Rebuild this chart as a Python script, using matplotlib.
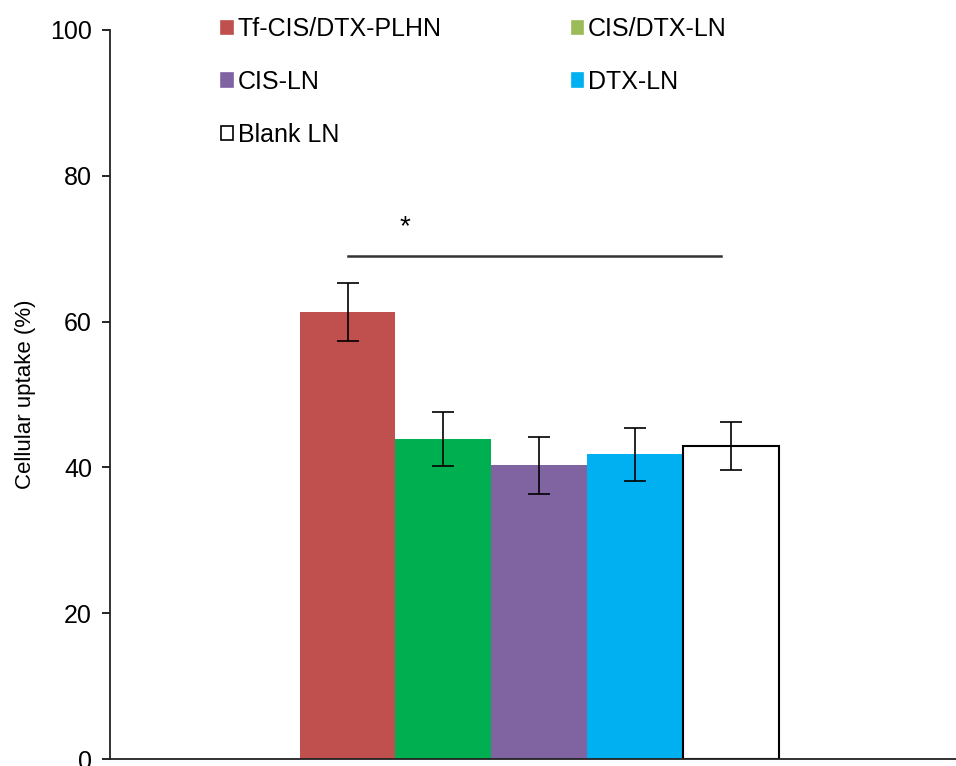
import matplotlib
matplotlib.use("Agg")
import matplotlib.pyplot as plt
from matplotlib.patches import Patch

plt.rcParams['font.family'] = ['Liberation Sans', 'DejaVu Sans']

# Formulations and their measured cellular uptake (%)
groups = ["Tf-CIS/DTX-PLHN", "CIS/DTX-LN", "CIS-LN", "DTX-LN", "Blank LN"]
uptake = [61.3, 43.9, 40.3, 41.8, 42.9]
uptake_err = [4.0, 3.7, 3.9, 3.6, 3.3]

bar_colors = ["#C0504D", "#00B050", "#8064A2", "#00B0F0", "#FFFFFF"]
legend_colors = ["#C0504D", "#9BBB59", "#8064A2", "#00B0F0", "#FFFFFF"]

yticks = [0, 20, 40, 60, 80, 100]
sig_level = 69.0

fig = plt.figure(figsize=(9.56, 7.66), dpi=100)
ax = fig.add_axes([0.115, 0.009, 0.885, 0.952])

x = list(range(len(groups)))
ax.bar(x, uptake, width=1.0, color=bar_colors,
       edgecolor=["none", "none", "none", "none", "black"], linewidth=1.5)
ax.errorbar(x, uptake, yerr=uptake_err, fmt="none", ecolor="black",
            elinewidth=1.2, capsize=8, capthick=1.2)

# significance bracket
ax.plot([0.0, 3.9], [sig_level, sig_level], color="#333333", lw=1.8)
ax.text(0.6, sig_level + 2.2, "*", ha="center", va="bottom", fontsize=20)

ax.set_xlim(-2.48, 6.35)
ax.set_ylim(0, 100)
ax.set_yticks(yticks)
ax.set_xticks([])
ax.tick_params(axis="y", direction="out", length=6, width=1.2,
               labelsize=18, pad=7)
for s in ("top", "right"):
    ax.spines[s].set_visible(False)
for s in ("left", "bottom"):
    ax.spines[s].set_linewidth(1.3)
    ax.spines[s].set_color("#222222")

ax.set_ylabel("Cellular uptake (%)", fontsize=16, labelpad=10)

# legend laid out row by row: two entries per row
handles = [Patch(facecolor=c, edgecolor=("black" if c == "#FFFFFF" else c),
                 linewidth=1.2) for c in legend_colors]
order = [0, 2, 4, 1, 3]
leg = ax.legend([handles[i] for i in order], [groups[i] for i in order],
                ncol=2, frameon=False, fontsize=18,
                loc="upper left", bbox_to_anchor=(0.105, 1.048),
                handlelength=0.45, handleheight=0.45, handletextpad=0.2,
                columnspacing=5.2, labelspacing=1.15)

fig.savefig("out.png", dpi=100)
